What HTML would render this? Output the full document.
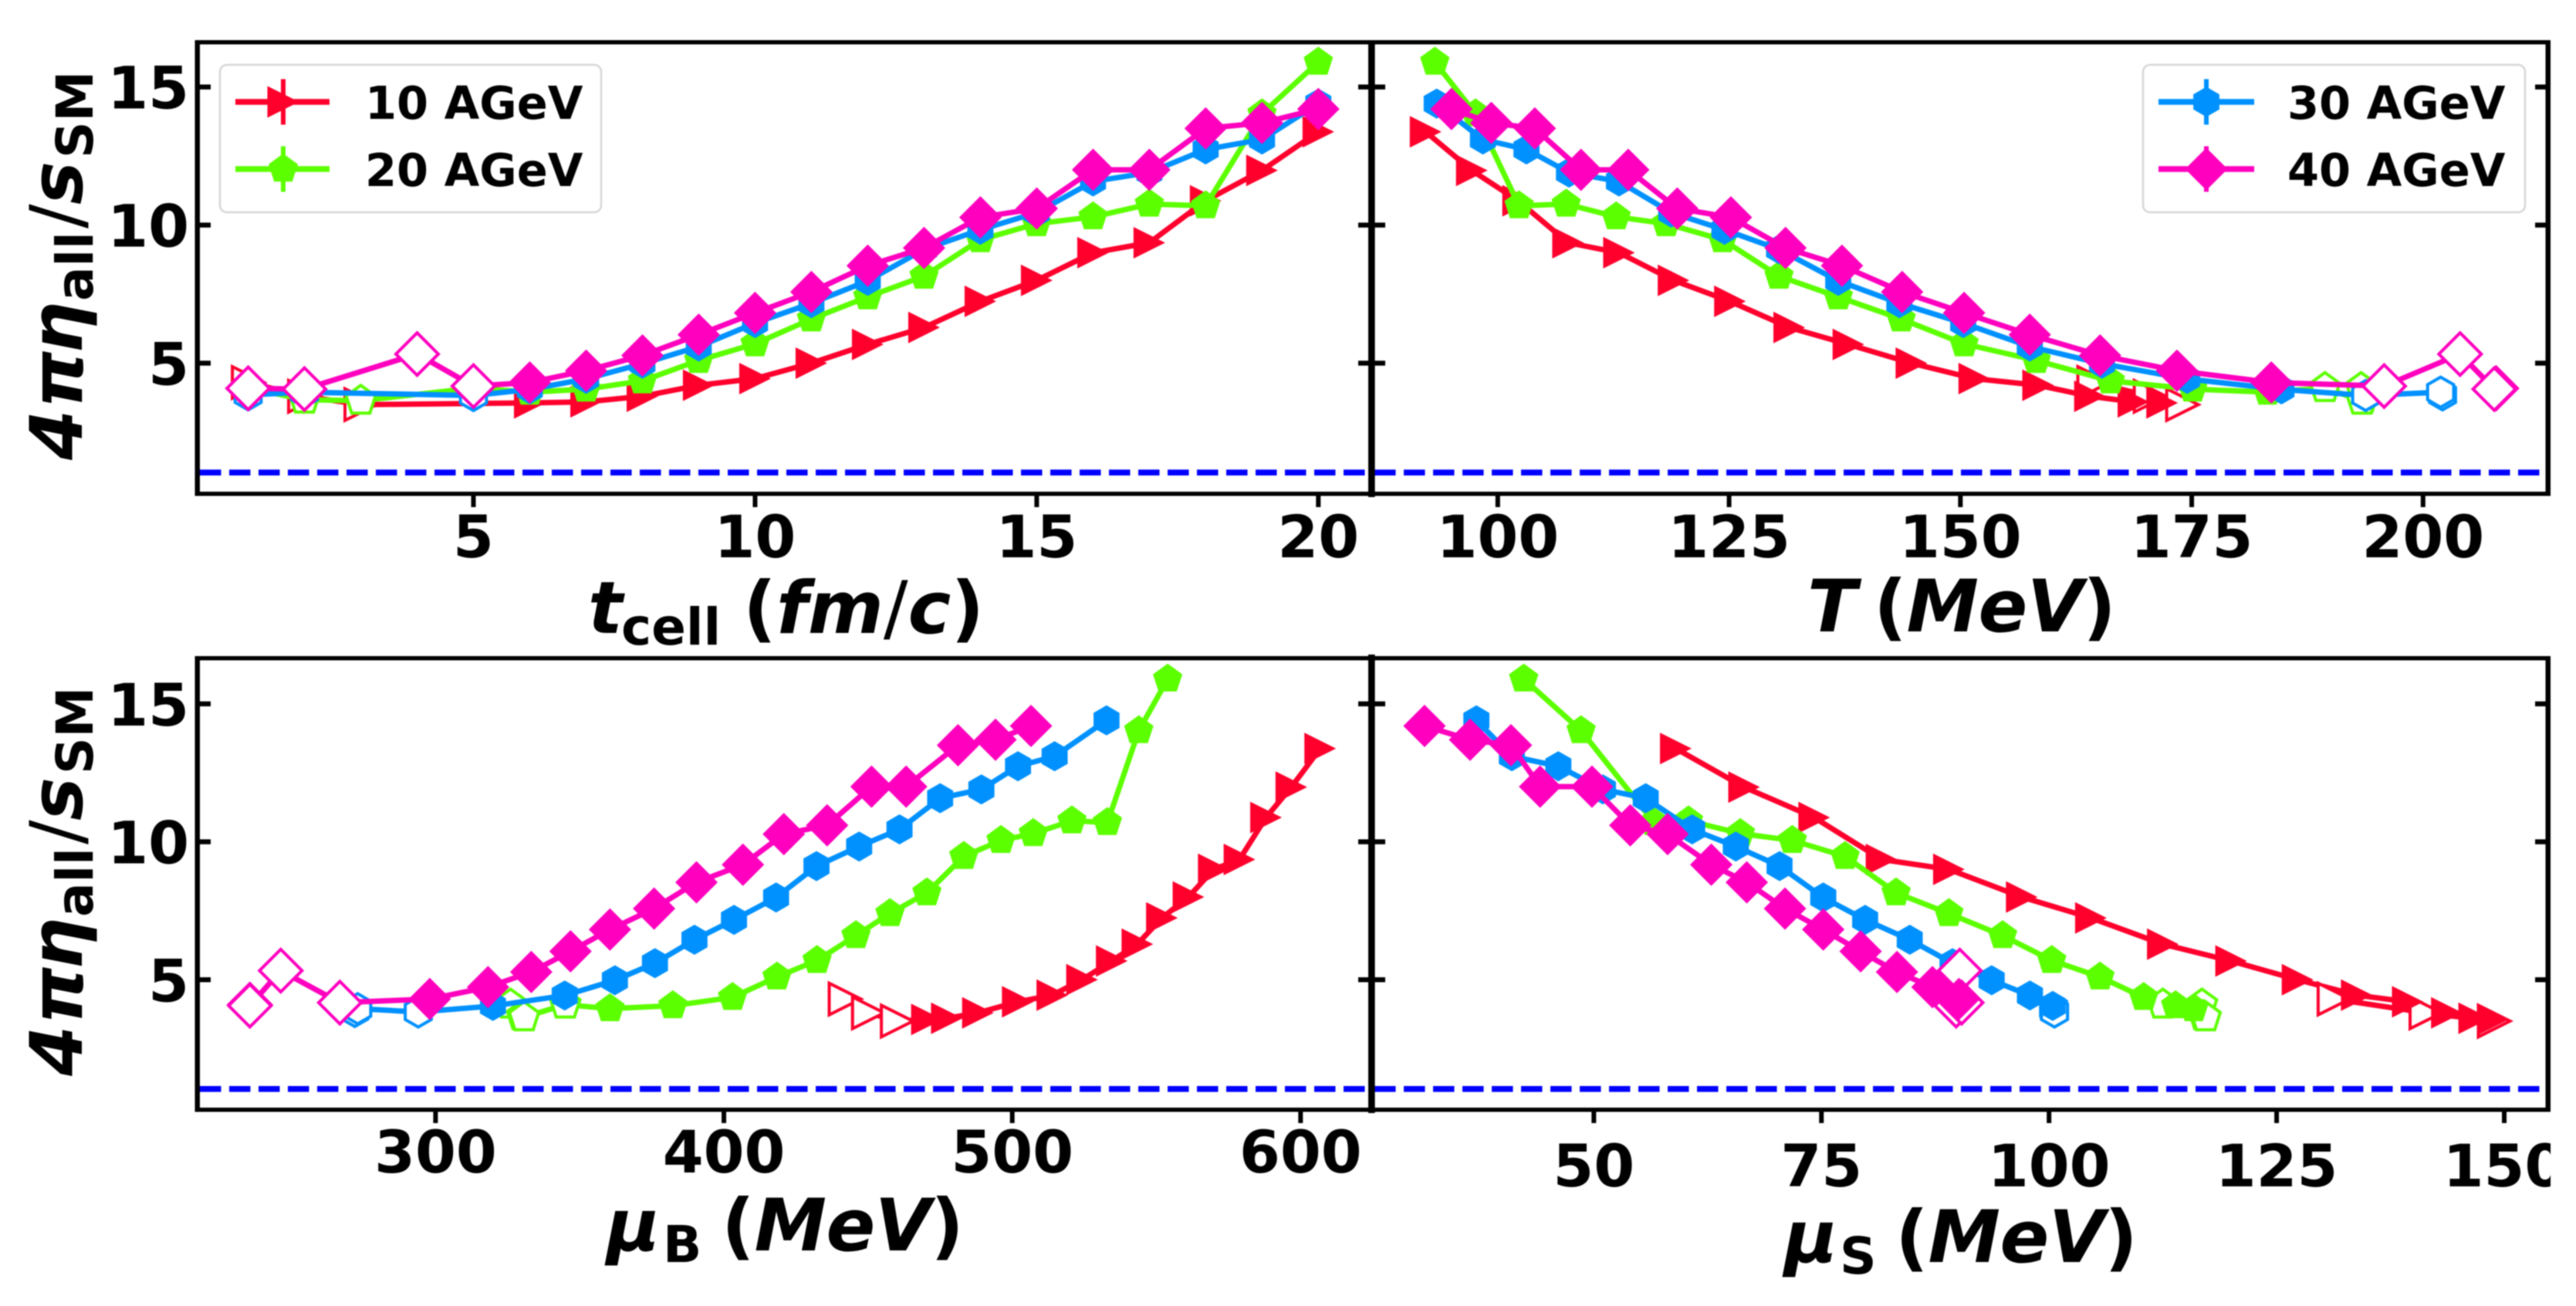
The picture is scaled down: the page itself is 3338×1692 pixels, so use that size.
<!DOCTYPE html>
<html lang="en">
<head>
<meta charset="utf-8">
<title>Shear viscosity to entropy ratio</title>
<style>
html,body{margin:0;padding:0;background:#fff;width:3338px;height:1692px;overflow:hidden}
svg{display:block;filter:blur(0.8px)}
text{font-family:"DejaVu Sans","Liberation Sans",sans-serif;font-weight:bold;fill:#000}
.lab{font-size:94px}
.it{font-style:italic}
.sub{font-size:66px;font-style:normal}
.thin{font-weight:normal;font-style:normal}
.tight{letter-spacing:-0.5px}
.tick{font-size:76px}
.leg{font-size:59px}
</style>
</head>
<body>
<svg id="figure" xmlns="http://www.w3.org/2000/svg" width="3338" height="1692" viewBox="0 0 3338 1692">
  <defs><clipPath id="canvas-clip"><rect x="0" y="0" width="3305" height="1692"/></clipPath></defs>
  <rect x="0" y="0" width="3338" height="1692" fill="#fff"/>
  <g id="plot-layer"></g>
  <g id="frame-layer" fill="#000">
    <rect x="252.5" y="52" width="6.5" height="590"/>
    <rect x="252.5" y="52" width="3052.5" height="5.5"/>
    <rect x="252.5" y="637" width="3052.5" height="5.5"/>
    <rect x="1773" y="52" width="8.6" height="592"/>
    <rect x="3298.5" y="52" width="6.5" height="590"/>
    <rect x="252.5" y="850" width="6.5" height="590"/>
    <rect x="252.5" y="850" width="3052.5" height="5.5"/>
    <rect x="252.5" y="1435" width="3052.5" height="5.5"/>
    <rect x="1773" y="848" width="8.6" height="594"/>
    <rect x="3298.5" y="850" width="6.5" height="590"/>
  </g>
  <g id="tick-layer" clip-path="url(#canvas-clip)"></g>

  <g>
    <rect x="285" y="84" width="494" height="191" rx="9" fill="#fff" stroke="#d6d6d6" stroke-width="2.5"/>
    <text class="leg" x="473" y="154">10 AGeV</text>
    <text class="leg" x="473" y="241">20 AGeV</text>
  </g>
  <g>
    <rect x="2777" y="84" width="495" height="191" rx="9" fill="#fff" stroke="#d6d6d6" stroke-width="2.5"/>
    <text class="leg" x="2964" y="154">30 AGeV</text>
    <text class="leg" x="2964" y="241">40 AGeV</text>
  </g>
  <g id="legend-keys"></g>

  <text class="lab"><tspan class="it" x="762" y="820">t</tspan><tspan class="sub" x="805" y="835">cell</tspan><tspan x="963" y="820">(</tspan><tspan class="it">fm</tspan><tspan class="thin">/</tspan><tspan class="it">c</tspan><tspan>)</tspan></text>
  <text class="lab"><tspan class="it" x="2342" y="818">T</tspan><tspan class="tight" x="2428" y="818">(<tspan class="it">MeV</tspan>)</tspan></text>
  <text class="lab"><tspan class="it" x="786" y="1620">μ</tspan><tspan class="sub" x="859" y="1635">B</tspan><tspan class="tight" x="935" y="1620">(<tspan class="it">MeV</tspan>)</tspan></text>
  <text class="lab"><tspan class="it" x="2312" y="1635">μ</tspan><tspan class="sub" x="2384" y="1650">S</tspan><tspan class="tight" x="2456" y="1635">(<tspan class="it">MeV</tspan>)</tspan></text>

  <text class="lab" transform="translate(106,593) rotate(-90)"><tspan class="it" x="-3" y="0">4</tspan><tspan class="it" x="64" y="0">π</tspan><tspan class="it" x="135" y="0">η</tspan><tspan class="sub" x="203" y="14">all</tspan><tspan class="thin" x="297" y="0">/</tspan><tspan class="it" x="328" y="0">s</tspan><tspan class="sub" x="388" y="14">SM</tspan></text>
  <text class="lab" transform="translate(106,1391) rotate(-90)"><tspan class="it" x="-3" y="0">4</tspan><tspan class="it" x="64" y="0">π</tspan><tspan class="it" x="135" y="0">η</tspan><tspan class="sub" x="203" y="14">all</tspan><tspan class="thin" x="297" y="0">/</tspan><tspan class="it" x="328" y="0">s</tspan><tspan class="sub" x="388" y="14">SM</tspan></text>
</svg>
<script>
// ---- chart data ----
const tickValuesY = [5, 10, 15];
const tickValuesTime = [5, 10, 15, 20];
const tickValuesTemp = [100, 125, 150, 175, 200];
const tickValuesMuB = [300, 400, 500, 600];
const tickValuesMuS = [50, 75, 100, 125, 150];
const kssBound = [1.04];

const tcell10 = [1, 2, 3, 6, 7, 8, 9, 10, 11, 12, 13, 14, 15, 16, 17, 18, 19, 20];
const ratio10 = [4.3, 3.8, 3.5, 3.56, 3.6, 3.8, 4.2, 4.44, 5.0, 5.68, 6.29, 7.24, 8.0, 9.0, 9.36, 10.88, 11.98, 13.38];
const temp10 = [164.4, 170.5, 174, 171.8, 168.7, 164, 158.4, 151.5, 144.7, 137.9, 131.5, 125.1, 119, 113.1, 107.6, 102.2, 97.2, 92.2];
const muB10 = [442, 450.1, 460.1, 470.4, 477.3, 488.1, 501.9, 513.9, 524.2, 534.5, 543.4, 551.9, 561.1, 569.9, 578.8, 588, 596.8, 606.8];
const muS10 = [131.3, 141.4, 148.9, 148.8, 146.7, 143.7, 139.4, 133.8, 127.3, 120, 112.5, 104.6, 97, 89, 81.6, 74.2, 66.5, 59];

const tcell20 = [1, 2, 3, 5, 6, 7, 8, 9, 10, 11, 12, 13, 14, 15, 16, 17, 18, 19, 20];
const ratio20 = [4.1, 3.68, 3.64, 4.1, 3.95, 4.06, 4.36, 5.1, 5.7, 6.6, 7.4, 8.15, 9.47, 10.05, 10.3, 10.76, 10.7, 14.03, 15.9];
const temp20 = [193.3, 193.5, 193.4, 189.4, 183.2, 175.1, 166.2, 158.2, 150.4, 143.6, 136.8, 130.4, 124.3, 118.2, 112.8, 107.4, 102.3, 97.6, 93.2];
const muB20 = [326, 330, 330.7, 345, 360.5, 382.3, 403, 418.4, 432.3, 445.8, 457.6, 470.4, 483.2, 496.1, 507.3, 520.7, 533, 543.9, 553.9];
const muS20 = [116.8, 117, 117.2, 112.5, 115.9, 113.9, 110.4, 105.6, 100.3, 94.9, 89, 83.2, 77.6, 71.8, 66.1, 60.4, 56.6, 48.6, 42.3];

const tcell30 = [1, 2, 5, 6, 7, 8, 9, 10, 11, 12, 13, 14, 15, 16, 17, 18, 19, 20];
const ratio30 = [3.85, 3.95, 3.83, 4.05, 4.43, 4.98, 5.6, 6.45, 7.17, 7.98, 9.12, 9.83, 10.45, 11.58, 11.9, 12.74, 13.1, 14.4];
const temp30 = [202.1, 201.9, 193.8, 184.7, 174.5, 165.3, 157.5, 150.3, 143.4, 136.8, 130.4, 124.5, 118.75, 113.1, 107.7, 103.1, 98.4, 93.4];
const muB30 = [272, 273, 294, 319.9, 344.8, 362.2, 376.1, 389.8, 403.5, 418.1, 432.1, 446.9, 460.9, 475, 489.3, 502, 514.7, 532.7];
const muS30 = [100.6, 100.5, 100.6, 100.4, 97.9, 93.7, 89.4, 84.7, 79.8, 75.2, 70.4, 65.6, 60.8, 55.7, 51, 46.1, 41, 37.1];

const tcell40 = [1, 2, 4, 5, 6, 7, 8, 9, 10, 11, 12, 13, 14, 15, 16, 17, 18, 19, 20];
const ratio40 = [4.09, 4.06, 5.33, 4.17, 4.3, 4.73, 5.28, 6.03, 6.82, 7.58, 8.53, 9.17, 10.28, 10.6, 12, 12, 13.5, 13.7, 14.2];
const temp40 = [207.9, 207.7, 204, 195.8, 183.6, 173.4, 165.1, 157.5, 150.4, 143.7, 137.2, 131.1, 125.2, 119.4, 114.1, 109, 104, 99.3, 95];
const muB40 = [235.6, 235.6, 246.3, 266.8, 298, 318.2, 333.2, 346.8, 360.5, 375.8, 390.5, 406.6, 420.8, 435.8, 451.2, 463.2, 481.2, 494.2, 506.5];
const muS40 = [89.8, 89.8, 90.2, 90.4, 90.1, 87.2, 83.3, 79.3, 75.2, 71, 66.8, 62.9, 58.1, 54, 49.8, 44.1, 40.9, 36.4, 31.4];

// number of leading points drawn as hollow markers in each series
const hollowCount10 = 3;
const hollowCount20 = 4;
const hollowCount30 = 3;
const hollowCount40 = 4;

// ---- axis functions ----
function axisScale(d0, p0, d1, p1) {
  return function (v) { return p0 + (v - d0) * (p1 - p0) / (d1 - d0); };
}
const xTime = axisScale(5, 613.5, 20, 1708.3);
const xTemp = axisScale(100, 1940.8, 200, 3139.8);
const xMuB = axisScale(300, 564.4, 600, 1685.3);
const xMuS = axisScale(50, 2065.3, 150, 3245);
const yTop = axisScale(5, 470.5, 15, 112.7);
const yBottom = axisScale(5, 1269.3, 15, 911.9);

const NS = 'http://www.w3.org/2000/svg';
const plotLayer = document.getElementById('plot-layer');
const tickLayer = document.getElementById('tick-layer');
const legendKeys = document.getElementById('legend-keys');

function make(tag, parent) {
  const el = document.createElementNS(NS, tag);
  parent.appendChild(el);
  return el;
}

function markerPoints(shape, cx, cy) {
  const pts = [];
  if (shape === 'triangle') {
    const r = 20.5;
    pts.push([cx - r, cy - r], [cx + r, cy], [cx - r, cy + r]);
  } else if (shape === 'diamond') {
    const r = 27.5;
    pts.push([cx, cy - r], [cx + r, cy], [cx, cy + r], [cx - r, cy]);
  } else {
    const n = shape === 'pentagon' ? 5 : 6;
    const r = shape === 'pentagon' ? 20 : 19.5;
    for (let i = 0; i < n; i++) {
      const a = -Math.PI / 2 + i * 2 * Math.PI / n;
      pts.push([cx + r * Math.cos(a), cy + r * Math.sin(a)]);
    }
  }
  return pts.map(function (p) { return p[0].toFixed(1) + ',' + p[1].toFixed(1); }).join(' ');
}

function drawMarker(parent, shape, color, cx, cy, hollow) {
  const m = make('polygon', parent);
  
  
  m.setAttribute('points', markerPoints(shape, cx, cy));
  if (hollow) {
    m.setAttribute('fill', '#fff');
    m.setAttribute('stroke', color);
    m.setAttribute('stroke-width', '4');
  } else {
    m.setAttribute('fill', color);
  }
}

const seriesList = [
  { color: '#ff002d', shape: 'triangle', hollow: hollowCount10, t: tcell10, y: ratio10, temp: temp10, muB: muB10, muS: muS10 },
  { color: '#5cff00', shape: 'pentagon', hollow: hollowCount20, t: tcell20, y: ratio20, temp: temp20, muB: muB20, muS: muS20 },
  { color: '#0091ff', shape: 'hexagon', hollow: hollowCount30, t: tcell30, y: ratio30, temp: temp30, muB: muB30, muS: muS30 },
  { color: '#ff00bf', shape: 'diamond', hollow: hollowCount40, t: tcell40, y: ratio40, temp: temp40, muB: muB40, muS: muS40 }
];

function drawBoundLine(x0, x1, yScale) {
  const line = make('line', plotLayer);
  
  
  line.setAttribute('x1', x0);
  line.setAttribute('x2', x1);
  line.setAttribute('y1', yScale(kssBound[0]));
  line.setAttribute('y2', yScale(kssBound[0]));
  line.setAttribute('stroke', '#0000ff');
  line.setAttribute('stroke-width', '7.6');
  line.setAttribute('stroke-dasharray', '27.5 10.5');
}

function drawPanel(key, xScale, yScale) {
  seriesList.forEach(function (s) {
    const g = make('g', plotLayer);
    
    
    const xs = s[key].map(xScale);
    const ys = s.y.map(yScale);
    const poly = make('polyline', g);
    
    
    poly.setAttribute('points', xs.map(function (x, i) { return x.toFixed(1) + ',' + ys[i].toFixed(1); }).join(' '));
    poly.setAttribute('fill', 'none');
    poly.setAttribute('stroke', s.color);
    poly.setAttribute('stroke-width', '7');
    poly.setAttribute('stroke-linejoin', 'round');
    for (let i = 0; i < s.hollow; i++) drawMarker(g, s.shape, s.color, xs[i], ys[i], true);
    for (let i = s.hollow; i < xs.length; i++) drawMarker(g, s.shape, s.color, xs[i], ys[i], false);
  });
}

function drawXTicks(values, xScale, axisY, labelBaseline) {
  values.forEach(function (v) {
    const mark = make('rect', tickLayer);
    
    
    mark.setAttribute('x', xScale(v) - 3);
    mark.setAttribute('y', axisY);
    mark.setAttribute('width', 6);
    mark.setAttribute('height', 15);
    const label = make('text', tickLayer);
    
    
    label.setAttribute('class', 'tick');
    label.setAttribute('x', xScale(v));
    label.setAttribute('y', labelBaseline);
    label.setAttribute('text-anchor', 'middle');
    label.textContent = String(v);
  });
}

function drawYTicks(yScale) {
  tickValuesY.forEach(function (v) {
    const y = yScale(v);
    const spots = [[256, 17], [1760, 18], [1777, 18], [3285, 17]];
    spots.forEach(function (spot) {
      const mark = make('rect', tickLayer);
      
      
      mark.setAttribute('x', spot[0]);
      mark.setAttribute('y', y - 3.2);
      mark.setAttribute('width', spot[1]);
      mark.setAttribute('height', 6.4);
    });
    const label = make('text', tickLayer);
    
    
    label.setAttribute('class', 'tick');
    label.setAttribute('x', 245);
    label.setAttribute('y', y + 28);
    label.setAttribute('text-anchor', 'end');
    label.textContent = String(v);
  });
}

function drawLegendKey(shape, color, x0, x1, cx, cy) {
  const g = make('g', legendKeys);
  
  
  const hLine = make('line', g);
  
  
  hLine.setAttribute('x1', x0);
  hLine.setAttribute('x2', x1);
  hLine.setAttribute('y1', cy);
  hLine.setAttribute('y2', cy);
  hLine.setAttribute('stroke', color);
  hLine.setAttribute('stroke-width', '7.5');
  const vLine = make('line', g);
  
  
  vLine.setAttribute('x1', cx);
  vLine.setAttribute('x2', cx);
  vLine.setAttribute('y1', cy - 29.5);
  vLine.setAttribute('y2', cy + 29.5);
  vLine.setAttribute('stroke', color);
  vLine.setAttribute('stroke-width', '6');
  drawMarker(g, shape, color, cx, cy, false);
}

drawBoundLine(259, 1773, yTop);
drawBoundLine(1781, 3298, yTop);
drawBoundLine(259, 1773, yBottom);
drawBoundLine(1781, 3298, yBottom);

drawPanel('t', xTime, yTop);
drawPanel('temp', xTemp, yTop);
drawPanel('muB', xMuB, yBottom);
drawPanel('muS', xMuS, yBottom);

drawXTicks(tickValuesTime, xTime, 642, 722);
drawXTicks(tickValuesTemp, xTemp, 642, 722);
drawXTicks(tickValuesMuB, xMuB, 1440, 1519);
drawXTicks(tickValuesMuS, xMuS, 1440, 1537);
drawYTicks(yTop);
drawYTicks(yBottom);

drawLegendKey('triangle', '#ff002d', 305, 427, 367, 132);
drawLegendKey('pentagon', '#5cff00', 305, 427, 367, 219);
drawLegendKey('hexagon', '#0091ff', 2797, 2921, 2859, 132);
drawLegendKey('diamond', '#ff00bf', 2797, 2921, 2859, 219);
</script>
</body>
</html>
